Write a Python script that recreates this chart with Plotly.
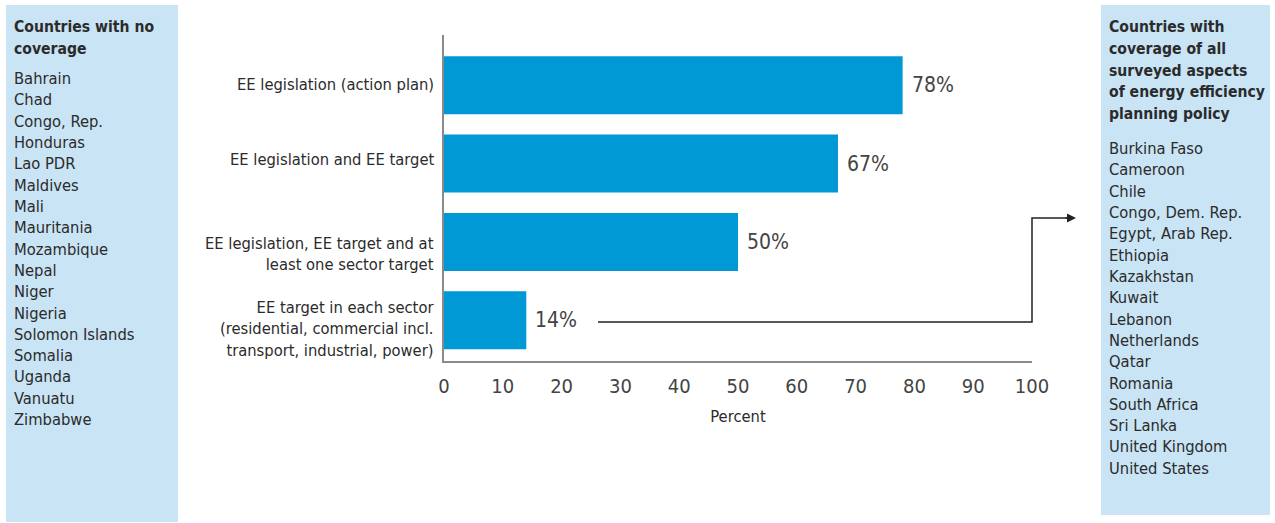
import plotly.graph_objects as go

# data
categories = [
    "EE legislation (action plan)",
    "EE legislation and EE target",
    "EE legislation, EE target and at<br>least one sector target",
    "EE target in each sector<br>(residential, commercial incl.<br>transport, industrial, power)",
]
shares = [78, 67, 50, 14]
x_ticks = [0, 10, 20, 30, 40, 50, 60, 70, 80, 90, 100]

no_coverage_title = ["Countries with no", "coverage"]
no_coverage = [
    "Bahrain", "Chad", "Congo, Rep.", "Honduras", "Lao PDR", "Maldives", "Mali",
    "Mauritania", "Mozambique", "Nepal", "Niger", "Nigeria", "Solomon Islands",
    "Somalia", "Uganda", "Vanuatu", "Zimbabwe",
]
full_coverage_title = ["Countries with", "coverage of all", "surveyed aspects",
                       "of energy efficiency", "planning policy"]
full_coverage = [
    "Burkina Faso", "Cameroon", "Chile", "Congo, Dem. Rep.", "Egypt, Arab Rep.",
    "Ethiopia", "Kazakhstan", "Kuwait", "Lebanon", "Netherlands", "Qatar",
    "Romania", "South Africa", "Sri Lanka", "United Kingdom", "United States",
]

FONT = "DejaVu Sans Condensed, Liberation Sans Narrow, sans-serif"
TXT = "#2b2b2b"
BAR = "#0098d5"
BOX = "#c9e4f5"

W, H = 1275, 523
L, R, T, B = 444, 1032, 35, 361


def px_x(p):
    return (p - L) / (R - L)


def px_y(p):
    return (B - p) / (B - T)


fig = go.Figure(go.Bar(
    x=shares, y=categories, orientation="h",
    marker=dict(color=BAR, line=dict(width=0)),
    width=0.74, hoverinfo="skip",
))

shapes = [
    dict(type="rect", xref="paper", yref="paper", layer="below",
         x0=px_x(6), x1=px_x(178), y0=px_y(522), y1=px_y(5),
         fillcolor=BOX, line=dict(width=0)),
    dict(type="rect", xref="paper", yref="paper", layer="below",
         x0=px_x(1101), x1=px_x(1270), y0=px_y(515), y1=px_y(5),
         fillcolor=BOX, line=dict(width=0)),
    # connector from the 14% bar to the right-hand list
    dict(type="path", xref="paper", yref="paper",
         path=f"M {px_x(598)},{px_y(322)} L {px_x(1032)},{px_y(322)} "
              f"L {px_x(1032)},{px_y(218)} L {px_x(1068)},{px_y(218)}",
         line=dict(color="#222", width=1.5)),
]

annotations = []

# category labels (left of the bars)
label_shift = [1, 4, -12, -9]
for cat, dy in zip(categories, label_shift):
    annotations.append(dict(
        text=cat, x=px_x(436), xref="paper", y=cat, yref="y",
        xanchor="right", yanchor="middle", align="right", yshift=dy,
        showarrow=False, font=dict(family=FONT, size=16.4, color=TXT)))

# value labels
for cat, v in zip(categories, shares):
    annotations.append(dict(
        text=f"{v}%", x=v, xref="x", y=cat, yref="y",
        xanchor="left", yanchor="middle", xshift=7,
        showarrow=False, font=dict(family=FONT, size=21, color="#444")))

# arrow head
annotations.append(dict(
    text="", x=px_x(1076), y=px_y(218), xref="paper", yref="paper",
    showarrow=True, ax=-12, ay=0, arrowhead=2, arrowsize=1.2,
    arrowwidth=1.5, arrowcolor="#222"))


def panel_title(lines, x_px, y_px, step):
    out = []
    for i, line in enumerate(lines):
        out.append(dict(
            text=f"<b>{line}</b>", x=px_x(x_px), y=px_y(y_px + i * step),
            xref="paper", yref="paper", xanchor="left", yanchor="middle",
            align="left", showarrow=False,
            font=dict(family=FONT, size=15.6, color=TXT)))
    return out


# side panels
annotations += panel_title(no_coverage_title, 12, 27, 22.5)
annotations += panel_title(full_coverage_title, 1107, 27, 21.8)
annotations += [
    dict(text="<br>".join(no_coverage),
         x=px_x(12), y=px_y(67), xref="paper", yref="paper",
         xanchor="left", yanchor="top", align="left", showarrow=False,
         font=dict(family=FONT, size=16.4, color=TXT)),
    dict(text="<br>".join(full_coverage),
         x=px_x(1107), y=px_y(137), xref="paper", yref="paper",
         xanchor="left", yanchor="top", align="left", showarrow=False,
         font=dict(family=FONT, size=16.4, color=TXT)),
]

fig.update_layout(
    width=W, height=H,
    margin=dict(l=L, r=W - R, t=T, b=H - B, pad=0),
    paper_bgcolor="white", plot_bgcolor="white",
    showlegend=False,
    shapes=shapes, annotations=annotations,
    xaxis=dict(
        range=[0, 100], tickvals=x_ticks, showgrid=False, zeroline=False,
        showline=True, linecolor="#8a8a8a", linewidth=1.5, ticks="",
        ticklabelstandoff=6,
        tickfont=dict(family=FONT, size=20, color="#444"),
        title=dict(text="Percent", standoff=14,
                   font=dict(family=FONT, size=16.4, color=TXT)),
        fixedrange=True,
    ),
    yaxis=dict(
        type="category", categoryorder="array", categoryarray=categories,
        range=[3.52, -0.64], showgrid=False, zeroline=False,
        showline=True, linecolor="#8a8a8a", linewidth=1.5,
        showticklabels=False, ticks="", fixedrange=True,
    ),
)

# drop the default page margin so the figure sits at the window's corner
fig.write_html("out.html", config={"displayModeBar": False},
               post_script="document.body.style.margin='0';")
